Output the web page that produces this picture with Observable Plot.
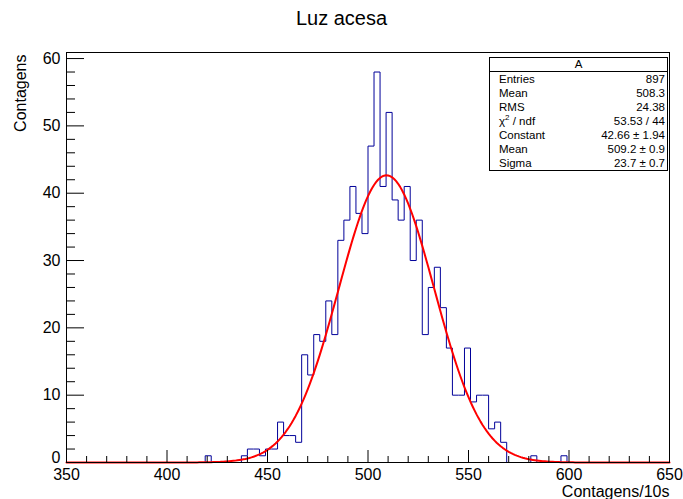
<!DOCTYPE html>
<html><head><meta charset="utf-8">
<script src="https://cdn.jsdelivr.net/npm/d3@7"></script>
<script src="https://cdn.jsdelivr.net/npm/@observablehq/plot@0.6"></script>
<style>
body{margin:0;background:#fff;font-family:"Liberation Sans",Arial,Helvetica,sans-serif;color:#000;}
#wrap{position:relative;width:683px;height:499px;overflow:hidden;}
#title{height:36px;line-height:36px;text-align:center;font-size:20px;}
#stats{position:absolute;left:489px;top:57px;width:177px;border:1px solid #000;background:#fff;font-size:11.5px;line-height:14px;}
#stats .hd{text-align:center;border-bottom:1px solid #000;height:13px;line-height:13px;}
#stats .row{display:flex;justify-content:space-between;padding:0 2px 0 9px;height:14px;}
#stats sup{font-size:8px;line-height:0;}
</style></head>
<body>
<div id="wrap">
<div id="title">Luz acesa</div>
<div id="stats"></div>
</div>
<script>
// Histogram: 100 bins of width 3 from 350 to 650
const xMin = 350, xMax = 650, binWidth = 3;
const counts = [
  0,0,0,0,0,0,0,0,0,0,
  0,0,0,0,0,0,0,0,0,0,
  0,0,0,1,0,0,0,0,0,1,
  2,2,1,2,2,6,4,4,3,16,
  13,19,18,24,19,33,36,41,37,34,
  47,58,41,52,39,36,41,30,36,19,
  26,29,23,17,10,10,17,9,10,10,
  5,6,3,0,0,0,0,1,0,0,
  0,0,1,0,0,0,0,0,0,0,
  0,0,0,0,0,0,0,0,0,0
];
// Gaussian fit parameters (from stats box)
const fitConstant = 42.66, fitMean = 509.2, fitSigma = 23.7;
// Stats box
const statLabels = ["Entries","Mean","RMS","χ<sup>2</sup> / ndf","Constant","Mean","Sigma"];
const statValues = ["897","508.3","24.38","53.53 / 44","42.66 ± 1.94","509.2 ± 0.9","23.7 ± 0.7"];
// Axis ticks
const xMajor = [350,400,450,500,550,600,650];
const yMajor = [0,10,20,30,40,50,60];
const yMax = 60.9;

const xMinor = d3.range(xMin, xMax + 1, 10).filter(v => !xMajor.includes(v));
const yMinor = d3.range(0, 61, 2).filter(v => !yMajor.includes(v));

const histPts = counts.map((c, i) => ({x: xMin + i * binWidth, y: c}));
histPts.push({x: xMax, y: counts[counts.length - 1]});
const fitPts = d3.range(xMin, xMax + 0.001, 1).map(x => ({x, y: fitConstant * Math.exp(-0.5 * ((x - fitMean) / fitSigma) ** 2)}));

const W = 683, H = 463;
const mL = 66, mR = 14, mT = 16, mB = 37;
const frameW = W - mL - mR, frameH = H - mT - mB;

const chart = Plot.plot({
  width: W, height: H,
  marginLeft: mL, marginRight: mR, marginTop: mT, marginBottom: mB,
  style: {fontFamily: "'Liberation Sans', Arial, Helvetica, sans-serif", fontSize: "16px", color: "#000", background: "#fff"},
  x: {domain: [xMin, xMax]},
  y: {domain: [0, yMax]},
  marks: [
    Plot.line(histPts, {x: "x", y: "y", curve: "step-after", stroke: "#000099", strokeWidth: 1}),
    Plot.line(fitPts, {x: "x", y: "y", stroke: "#ff0000", strokeWidth: 2}),
    Plot.tickX(xMajor, {x: d => d, insetTop: frameH - 12, stroke: "#000"}),
    Plot.tickX(xMinor, {x: d => d, insetTop: frameH - 6, stroke: "#000"}),
    Plot.tickY(yMajor, {y: d => d, insetRight: frameW - 18, stroke: "#000"}),
    Plot.tickY(yMinor, {y: d => d, insetRight: frameW - 9, stroke: "#000"}),
    Plot.axisX(xMajor, {tickSize: 0, tickPadding: 6, fontSize: 16, label: null}),
    Plot.axisY(yMajor.filter(v => v > 0), {tickSize: 0, tickPadding: 6, fontSize: 16, label: null}),
    Plot.axisY([0], {tickSize: 0, tickPadding: 6, fontSize: 16, label: null, dy: -5}),
    Plot.text(["Contagens/10s"], {frameAnchor: "bottom-right", textAnchor: "end", lineAnchor: "middle", dy: 29, fontSize: 16}),
    Plot.text(["Contagens"], {frameAnchor: "top-left", textAnchor: "end", lineAnchor: "middle", rotate: -90, dx: -46, dy: 2, fontSize: 16}),
    Plot.frame({stroke: "#000"})
  ]
});
document.getElementById("wrap").append(chart);

const stats = document.getElementById("stats");
let html = '<div class="hd">A</div>';
statLabels.forEach((l, i) => { html += `<div class="row"><span>${l}</span><span>${statValues[i]}</span></div>`; });
stats.innerHTML = html;
</script>
</body></html>
